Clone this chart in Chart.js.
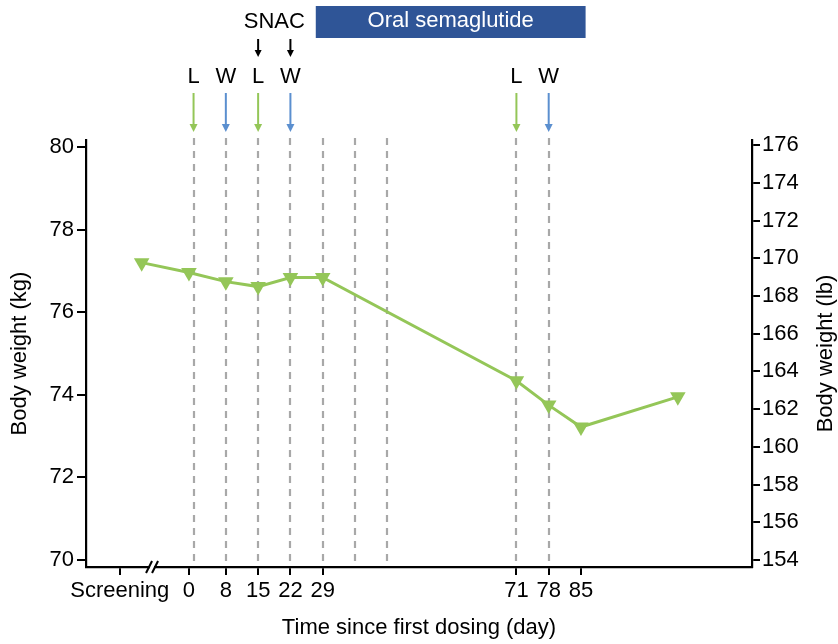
<!DOCTYPE html>
<html>
<head>
<meta charset="utf-8">
<script src="https://cdn.jsdelivr.net/npm/chart.js@4.4.1/dist/chart.umd.min.js"></script>
<style>
html,body{margin:0;padding:0;background:#fff;}
#wrap{width:838px;height:644px;position:relative;}
</style>
</head>
<body>
<div id="wrap"><canvas id="c" width="838" height="644"></canvas></div>
<script>
// ---- data ----
const visitDays = [-10.25, 0, 8, 15, 22, 29, 71, 78, 85, 106];
const bodyWeightKg = [77.20, 76.96, 76.74, 76.62, 76.84, 76.84, 74.34, 73.75, 73.22, 73.95];
const xTickDays = [-15, 0, 8, 15, 22, 29, 71, 78, 85];
const xTickLabels = ['Screening', '0', '8', '15', '22', '29', '71', '78', '85'];
const kgTicks = [70, 72, 74, 76, 78, 80];
const lbTicks = [154, 156, 158, 160, 162, 164, 166, 168, 170, 172, 174, 176];
const dashedDays = [1, 8, 15, 22, 29, 36, 43, 71, 78];
const lDays = [1, 15, 71];
const wDays = [8, 22, 78];
const snacDays = [15, 22];
const semaPeriod = [27.5, 86];
const breakDay = -8;
const rightTitle = 'Body weight (lb)';

const FONT = 'Liberation Sans, Arial, sans-serif';
const FS = 22;
const GREEN = '#94c658';
const BLUE = '#5b8fcf';

function arrow(ctx, x, y1, y2, color, lw, hw, hh) {
  ctx.save();
  ctx.strokeStyle = color; ctx.fillStyle = color; ctx.lineWidth = lw;
  ctx.beginPath(); ctx.moveTo(x, y1); ctx.lineTo(x, y2 - hh + 1); ctx.stroke();
  ctx.beginPath(); ctx.moveTo(x - hw / 2, y2 - hh); ctx.lineTo(x + hw / 2, y2 - hh); ctx.lineTo(x, y2); ctx.closePath(); ctx.fill();
  ctx.restore();
}

const annot = {
  id: 'annot',
  beforeDatasetsDraw(chart) {
    const {ctx, chartArea: a, scales: {x}} = chart;
    ctx.save();
    ctx.strokeStyle = '#a8a8a8'; ctx.lineWidth = 2.2; ctx.setLineDash([7, 6]);
    dashedDays.forEach(d => {
      const px = Math.round(x.getPixelForValue(d));
      ctx.beginPath(); ctx.moveTo(px, a.top - 2); ctx.lineTo(px, a.bottom); ctx.stroke();
    });
    ctx.restore();
  },
  afterDraw(chart) {
    const {ctx, chartArea: a, scales: {x}} = chart;
    ctx.save();
    ctx.font = FS + 'px ' + FONT; ctx.textAlign = 'center'; ctx.textBaseline = 'middle'; ctx.fillStyle = '#000';
    lDays.forEach(d => {
      const px = x.getPixelForValue(d);
      ctx.fillStyle = '#000';
      ctx.fillText('L', px, 77);
      arrow(ctx, px, 93, 132, GREEN, 2, 8, 8);
    });
    wDays.forEach(d => {
      const px = x.getPixelForValue(d);
      ctx.fillStyle = '#000';
      ctx.fillText('W', px, 77);
      arrow(ctx, px, 93, 132, BLUE, 2, 8, 8);
    });
    const s1 = x.getPixelForValue(snacDays[0]), s2 = x.getPixelForValue(snacDays[1]);
    ctx.fillStyle = '#000';
    ctx.fillText('SNAC', (s1 + s2) / 2, 22);
    snacDays.forEach(d => arrow(ctx, x.getPixelForValue(d), 39, 57, '#000', 2, 7, 7));
    const b1 = x.getPixelForValue(semaPeriod[0]), b2 = x.getPixelForValue(semaPeriod[1]);
    ctx.fillStyle = '#2f5597';
    ctx.fillRect(b1, 6, b2 - b1, 32);
    ctx.fillStyle = '#fff';
    ctx.fillText('Oral semaglutide', (b1 + b2) / 2, 21);
    // right axis title (reads bottom-to-top)
    ctx.save();
    ctx.translate(826, (a.top + a.bottom) / 2);
    ctx.rotate(-Math.PI / 2);
    ctx.fillStyle = '#000';
    ctx.fillText(rightTitle, 0, 0);
    ctx.restore();
    // axis break
    const bx = x.getPixelForValue(breakDay), by = a.bottom;
    ctx.fillStyle = '#fff';
    ctx.fillRect(bx - 2, by - 2, 4, 4);
    ctx.strokeStyle = '#000'; ctx.lineWidth = 2;
    [-3, 3].forEach(o => {
      ctx.beginPath(); ctx.moveTo(bx + o - 3, by + 6); ctx.lineTo(bx + o + 3, by - 6); ctx.stroke();
    });
    ctx.restore();
  }
};

Chart.defaults.font.family = FONT;
Chart.defaults.color = '#000';

new Chart(document.getElementById('c'), {
  type: 'line',
  data: {
    datasets: [{
      data: visitDays.map((d, i) => ({x: d, y: bodyWeightKg[i]})),
      borderColor: GREEN,
      backgroundColor: GREEN,
      borderWidth: 3,
      pointStyle: 'triangle',
      rotation: 180,
      pointRadius: 9,
      pointBorderWidth: 0,
      pointHoverRadius: 9,
      tension: 0,
      yAxisID: 'y'
    }]
  },
  options: {
    responsive: false,
    animation: false,
    devicePixelRatio: 1,
    events: [],
    layout: {padding: {top: 140, left: 0, right: 0, bottom: 0}},
    plugins: {legend: {display: false}, tooltip: {enabled: false}},
    scales: {
      x: {
        type: 'linear',
        min: -22.32, max: 122.08,
        afterBuildTicks: s => { s.ticks = xTickDays.map(v => ({value: v})); },
        afterFit: s => { s.height = 77; },
        ticks: {
          autoSkip: false, maxRotation: 0, font: {size: FS}, padding: 3,
          callback: (v) => xTickLabels[xTickDays.indexOf(v)]
        },
        grid: {display: true, drawOnChartArea: false, drawTicks: true, tickLength: 8, color: '#000', lineWidth: 2},
        border: {display: true, color: '#000', width: 2.2},
        title: {display: true, text: 'Time since first dosing (day)', font: {size: FS}, padding: {top: 0, bottom: 3}}
      },
      y: {
        type: 'linear', position: 'left',
        min: 69.83, max: 80.17,
        afterBuildTicks: s => { s.ticks = kgTicks.map(v => ({value: v})); },
        afterFit: s => { s.width = 86; },
        ticks: {font: {size: FS}, padding: 3},
        grid: {display: true, drawOnChartArea: false, drawTicks: true, tickLength: 9, color: '#000', lineWidth: 2},
        border: {display: true, color: '#000', width: 2.2},
        title: {display: true, text: 'Body weight (kg)', font: {size: FS}, padding: {top: 7, bottom: 0}}
      },
      y2: {
        type: 'linear', position: 'right',
        min: 153.63, max: 176.27,
        afterBuildTicks: s => { s.ticks = lbTicks.map(v => ({value: v})); },
        afterFit: s => { s.width = 86; },
        ticks: {font: {size: FS}, padding: 2},
        grid: {display: true, drawOnChartArea: false, drawTicks: true, tickLength: 8, color: '#000', lineWidth: 2},
        border: {display: true, color: '#000', width: 2.2},
        title: {display: false}
      }
    }
  },
  plugins: [annot]
});
</script>
</body>
</html>
